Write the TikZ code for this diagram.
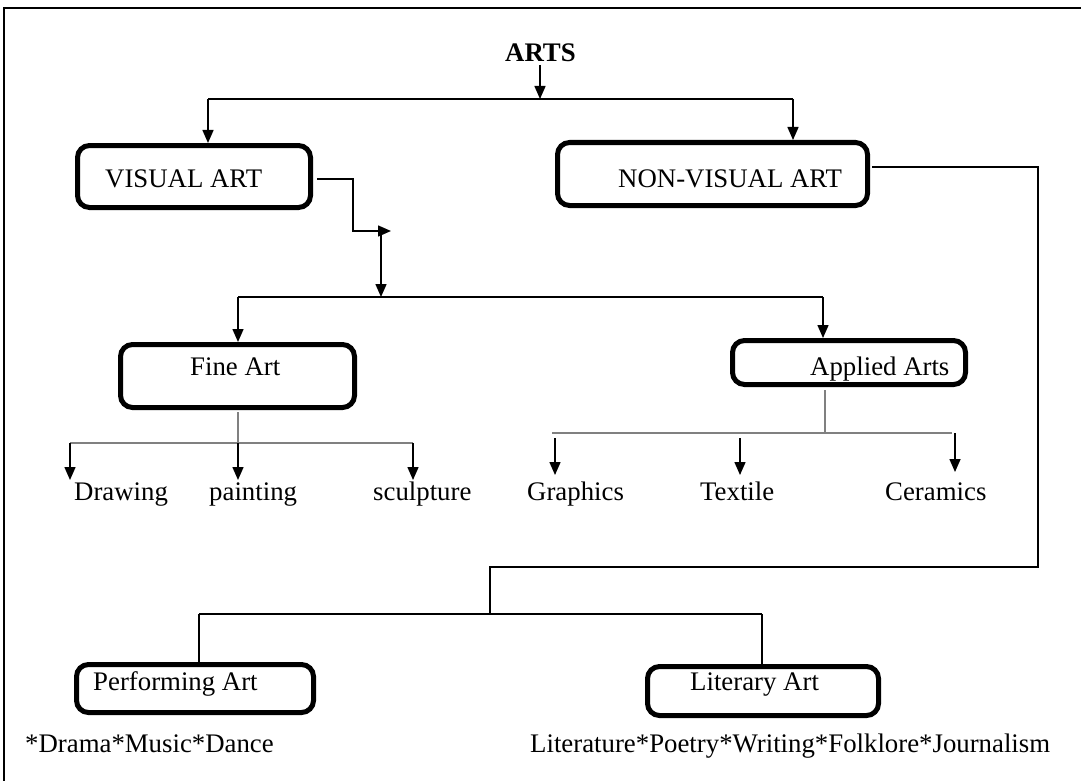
\documentclass[tikz,border=0pt]{standalone}
\usepackage{fontspec}
\setmainfont{Liberation Serif}
\usetikzlibrary{arrows.meta}
\begin{document}
\begin{tikzpicture}[x=1pt,y=-1pt,
  box/.style={draw, line width=5pt, rounded corners=12pt, inner sep=0pt},
  lbl/.style={inner sep=0pt, anchor=base west, font=\fontsize{26.8}{30}\selectfont},
  conn/.style={line width=1.5pt},
  arr/.style={conn, -{Triangle[length=13pt,width=11pt]}},
  gconn/.style={line width=2pt, draw=black!50}]
\useasboundingbox (0,0) rectangle (1081,781);
\clip (0,0) rectangle (1081,781);
% frame
\draw[line width=2.5pt] (4,800) -- (4,8) -- (1100,8);

% boxes
\node[box, minimum width=233pt, minimum height=62pt] (visual) at (194,176.5) {};
\node[box, minimum width=310pt, minimum height=63pt] (nonvisual) at (712.5,174) {};
\node[box, minimum width=234pt, minimum height=63pt] (fine) at (237.5,376) {};
\node[box, minimum width=233pt, minimum height=44pt] (applied) at (849,362.5) {};
\node[box, minimum width=237pt, minimum height=48pt] (perform) at (195,688.5) {};
\node[box, minimum width=231pt, minimum height=49pt] (literary) at (763,691) {};

% labels
\node[lbl, font=\bfseries\fontsize{26.8}{30}\selectfont] (arts) at (505,62) {ARTS};
\node[lbl] (tvisual) at (105,187) {VISUAL ART};
\node[lbl] (tnonvisual) at (618,187) {NON-VISUAL ART};
\node[lbl] (tfine) at (190,375) {Fine Art};
\node[lbl] (tapplied) at (810,375) {Applied Arts};
\node[lbl] (tperform) at (93,690) {Performing Art};
\node[lbl] (tliterary) at (690,690) {Literary Art};
\node[lbl] (drawing) at (74,500) {Drawing};
\node[lbl] (painting) at (209,500) {painting};
\node[lbl] (sculpture) at (373,500) {sculpture};
\node[lbl] (graphics) at (527,500) {Graphics};
\node[lbl] (textile) at (700,500) {Textile};
\node[lbl] (ceramics) at (885,500) {Ceramics};
\node[lbl] (perflist) at (25,752) {*Drama*Music*Dance};
\node[lbl] (litlist) at (530,752) {Literature*Poetry*Writing*Folklore*Journalism};

% junction coordinates
\coordinate (j0) at (540,99);
\coordinate (jl) at (208,99);
\coordinate (jr) at (793,99);
\coordinate (v1) at (317,179);
\coordinate (v2) at (353,231);
\coordinate (v3) at (391,231);
\coordinate (v4) at (381,231);
\coordinate (h0) at (381,297);
\coordinate (hl) at (238,297);
\coordinate (hr) at (823,297);
\coordinate (f0) at (238,412);
\coordinate (f1) at (238,443);
\coordinate (fl) at (70,443);
\coordinate (fr) at (413,443);
\coordinate (a0) at (825,390);
\coordinate (a1) at (825,433);
\coordinate (al) at (552,433);
\coordinate (ar) at (952,433);
\coordinate (n1) at (872,167);
\coordinate (n2) at (1038,167);
\coordinate (n3) at (1038,567);
\coordinate (n4) at (490,567);
\coordinate (n5) at (490,614);
\coordinate (nl) at (199,614);
\coordinate (nr) at (762,614);

% ARTS level
\draw[arr] (540,65) -- (j0);
\draw[conn] (jl) -- (jr);
\draw[arr] (jl) -- (jl |- visual.north);
\draw[arr] (jr) -- (jr |- nonvisual.north);

% visual art branch
\draw[arr] (v1) -| (v2) -- (v3);
\draw[arr] (v4) -- (h0);
\draw[conn] (hl) -- (hr);
\draw[arr] (hl) -- (hl |- fine.north);
\draw[arr] (hr) -- (hr |- applied.north);

% fine art children
\draw[gconn] (f0) -- (f1);
\draw[gconn] (fl) -- (fr);
\draw[arr] (fl) -- (70,480);
\draw[arr] (f1) -- (238,480);
\draw[arr] (fr) -- (413,480);

% applied arts children
\draw[gconn] (a0) -- (a1);
\draw[gconn] (al) -- (ar);
\draw[arr] (555,438) -- (555,475);
\draw[arr] (740,438) -- (740,475);
\draw[arr] (955,433) -- (955,472);

% non-visual branch
\draw[conn] (n1) -- (n2) -- (n3) -- (n4) -- (n5);
\draw[conn] (nl) -- (nr);
\draw[conn] (nl) -- (nl |- perform.north);
\draw[conn] (nr) -- (nr |- literary.north);
\end{tikzpicture}
\end{document}
